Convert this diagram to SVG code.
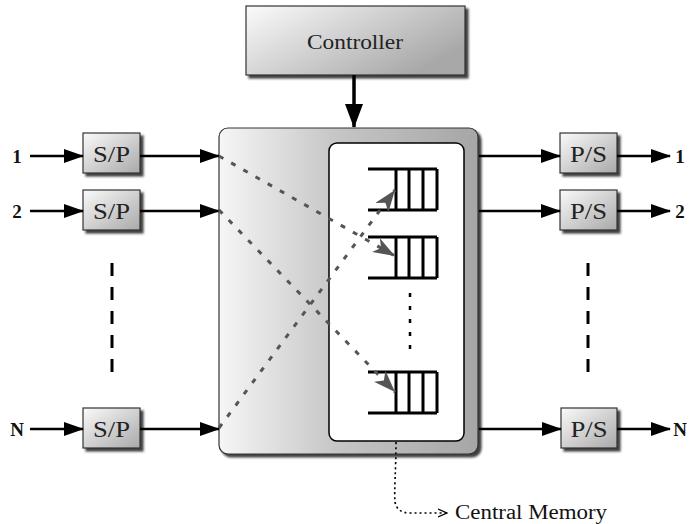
<svg xmlns="http://www.w3.org/2000/svg" width="689" height="524" viewBox="0 0 689 524">
<style>
.box{stroke:#333;stroke-width:1.2}
.lbl{font-family:"Liberation Serif","Times New Roman",serif;fill:#222;text-anchor:middle}
.port{font-family:"Liberation Serif","Times New Roman",serif;font-weight:bold;font-size:19px;fill:#111;text-anchor:middle}
.wire{stroke:#000;stroke-width:2.6;fill:none}
.cross{stroke:#555;stroke-width:3;stroke-dasharray:5 9;fill:none}
.q{stroke:#000;stroke-width:3;fill:none}
.vdash{stroke:#000;stroke-width:3;stroke-dasharray:13 11;fill:none}
</style>
<defs>
<linearGradient id="gSmall" x1="0" y1="0" x2="1" y2="1">
<stop offset="0" stop-color="#fafafa"/><stop offset="1" stop-color="#a9a9a9"/>
</linearGradient>
<linearGradient id="gCtrl" x1="0" y1="0" x2="1" y2="0.6">
<stop offset="0" stop-color="#fbfbfb"/><stop offset="1" stop-color="#a8a8a8"/>
</linearGradient>
<linearGradient id="gMain" x1="0" y1="0" x2="1" y2="0">
<stop offset="0" stop-color="#f6f6f6"/><stop offset="0.45" stop-color="#c6c6c6"/><stop offset="1" stop-color="#a6a6a6"/>
</linearGradient>
<filter id="sh" x="-10%" y="-10%" width="130%" height="130%">
<feDropShadow dx="3" dy="3" stdDeviation="1.2" flood-color="#222" flood-opacity="0.85"/>
</filter>
<marker id="ah" viewBox="0 0 20 14" refX="19" refY="7" markerWidth="20" markerHeight="14" markerUnits="userSpaceOnUse" orient="auto">
<path d="M0,0 L20,7 L0,14 z" fill="#000"/>
</marker>
<marker id="ahBig" viewBox="0 0 24 18" refX="23" refY="9" markerWidth="24" markerHeight="18" markerUnits="userSpaceOnUse" orient="auto">
<path d="M0,0 L24,9 L0,18 z" fill="#000"/>
</marker>
<marker id="ahG" viewBox="0 0 22 16" refX="22" refY="8" markerWidth="22" markerHeight="16" markerUnits="userSpaceOnUse" orient="auto">
<path d="M0,0 L22,8 L0,16 L6,8 z" fill="#555"/>
</marker>
<marker id="ahO" viewBox="0 0 10 10" refX="9" refY="5" markerWidth="10" markerHeight="10" markerUnits="userSpaceOnUse" orient="auto">
<path d="M0,1 L9,5 L0,9" fill="none" stroke="#000" stroke-width="1.3"/>
</marker>
</defs>
<rect width="689" height="524" fill="#fff"/>

<g id="controller">
<rect class="box" x="246" y="6" width="219" height="69" fill="url(#gCtrl)" filter="url(#sh)"/>
<text class="lbl" x="355" y="49" font-size="21" textLength="96" lengthAdjust="spacingAndGlyphs">Controller</text>
</g>

<g id="switch">
<rect class="box" x="219" y="128" width="259" height="326" rx="9" fill="url(#gMain)" filter="url(#sh)"/>
</g>

<g id="central-memory">
<rect x="329" y="143" width="135" height="298" rx="8" fill="#fff" stroke="#000" stroke-width="1.5"/>
</g>

<g id="queue1">
<path class="q" d="M368,169 H437 M368,210 H437 M396,169 V210 M409,169 V210 M423,169 V210 M437,169 V210"/>
</g>
<g id="queue2">
<path class="q" d="M368,237 H437 M368,278 H437 M396,237 V278 M409,237 V278 M423,237 V278 M437,237 V278"/>
</g>
<g id="queue3">
<path class="q" d="M368,372 H437 M368,413 H437 M396,372 V413 M409,372 V413 M423,372 V413 M437,372 V413"/>
</g>
<g id="queue-dots">
<path d="M410,293 V358" stroke="#000" stroke-width="2.5" stroke-dasharray="4 9" fill="none"/>
</g>

<g id="sp1">
<rect class="box" x="83" y="133" width="57" height="40" fill="url(#gSmall)" filter="url(#sh)"/>
<text class="lbl" x="111.5" y="162" font-size="23" textLength="37" lengthAdjust="spacingAndGlyphs">S/P</text>
</g>
<g id="sp2">
<rect class="box" x="83" y="190" width="57" height="40" fill="url(#gSmall)" filter="url(#sh)"/>
<text class="lbl" x="111.5" y="219" font-size="23" textLength="37" lengthAdjust="spacingAndGlyphs">S/P</text>
</g>
<g id="spN">
<rect class="box" x="83" y="408" width="57" height="40" fill="url(#gSmall)" filter="url(#sh)"/>
<text class="lbl" x="111.5" y="437" font-size="23" textLength="37" lengthAdjust="spacingAndGlyphs">S/P</text>
</g>
<g id="ps1">
<rect class="box" x="560" y="133" width="57" height="40" fill="url(#gSmall)" filter="url(#sh)"/>
<text class="lbl" x="588.5" y="162" font-size="23" textLength="37" lengthAdjust="spacingAndGlyphs">P/S</text>
</g>
<g id="ps2">
<rect class="box" x="560" y="190" width="57" height="40" fill="url(#gSmall)" filter="url(#sh)"/>
<text class="lbl" x="588.5" y="219" font-size="23" textLength="37" lengthAdjust="spacingAndGlyphs">P/S</text>
</g>
<g id="psN">
<rect class="box" x="561" y="408" width="56" height="40" fill="url(#gSmall)" filter="url(#sh)"/>
<text class="lbl" x="589" y="437" font-size="23" textLength="37" lengthAdjust="spacingAndGlyphs">P/S</text>
</g>

<g id="labels">
<text class="port" x="17" y="163">1</text>
<text class="port" x="17" y="218">2</text>
<text class="port" x="17" y="436">N</text>
<text class="port" x="680" y="163">1</text>
<text class="port" x="680" y="218">2</text>
<text class="port" x="680" y="436">N</text>
<text x="455" y="519" font-family="'Liberation Serif','Times New Roman',serif" font-size="20" fill="#111" textLength="152" lengthAdjust="spacingAndGlyphs">Central Memory</text>
</g>

<g id="connectors">
<path class="wire" d="M30,156 H83" marker-end="url(#ah)"/>
<path class="wire" d="M30,211 H83" marker-end="url(#ah)"/>
<path class="wire" d="M30,429 H83" marker-end="url(#ah)"/>
<path class="wire" d="M140,156 H219" marker-end="url(#ah)"/>
<path class="wire" d="M140,211 H219" marker-end="url(#ah)"/>
<path class="wire" d="M140,429 H219" marker-end="url(#ah)"/>
<path class="wire" d="M479,156 H560" marker-end="url(#ah)"/>
<path class="wire" d="M479,211 H560" marker-end="url(#ah)"/>
<path class="wire" d="M479,429 H561" marker-end="url(#ah)"/>
<path class="wire" d="M617,156 H670" marker-end="url(#ah)"/>
<path class="wire" d="M617,211 H670" marker-end="url(#ah)"/>
<path class="wire" d="M617,429 H670" marker-end="url(#ah)"/>
<path d="M354,75 V127" stroke="#000" stroke-width="3.5" fill="none" marker-end="url(#ahBig)"/>
<path class="cross" d="M219,156 L395,256" marker-end="url(#ahG)"/>
<path class="cross" d="M219,210 L395,392" marker-end="url(#ahG)"/>
<path class="cross" d="M219,428 L395,190" marker-end="url(#ahG)"/>
<path class="vdash" d="M112,263 V374"/>
<path class="vdash" d="M588,263 V374"/>
<path d="M396,442 C396,470 394,490 395,502 Q397,513 410,513 L447,513" stroke="#000" stroke-width="1.6" stroke-dasharray="2 3" fill="none" marker-end="url(#ahO)"/>
</g>
</svg>
